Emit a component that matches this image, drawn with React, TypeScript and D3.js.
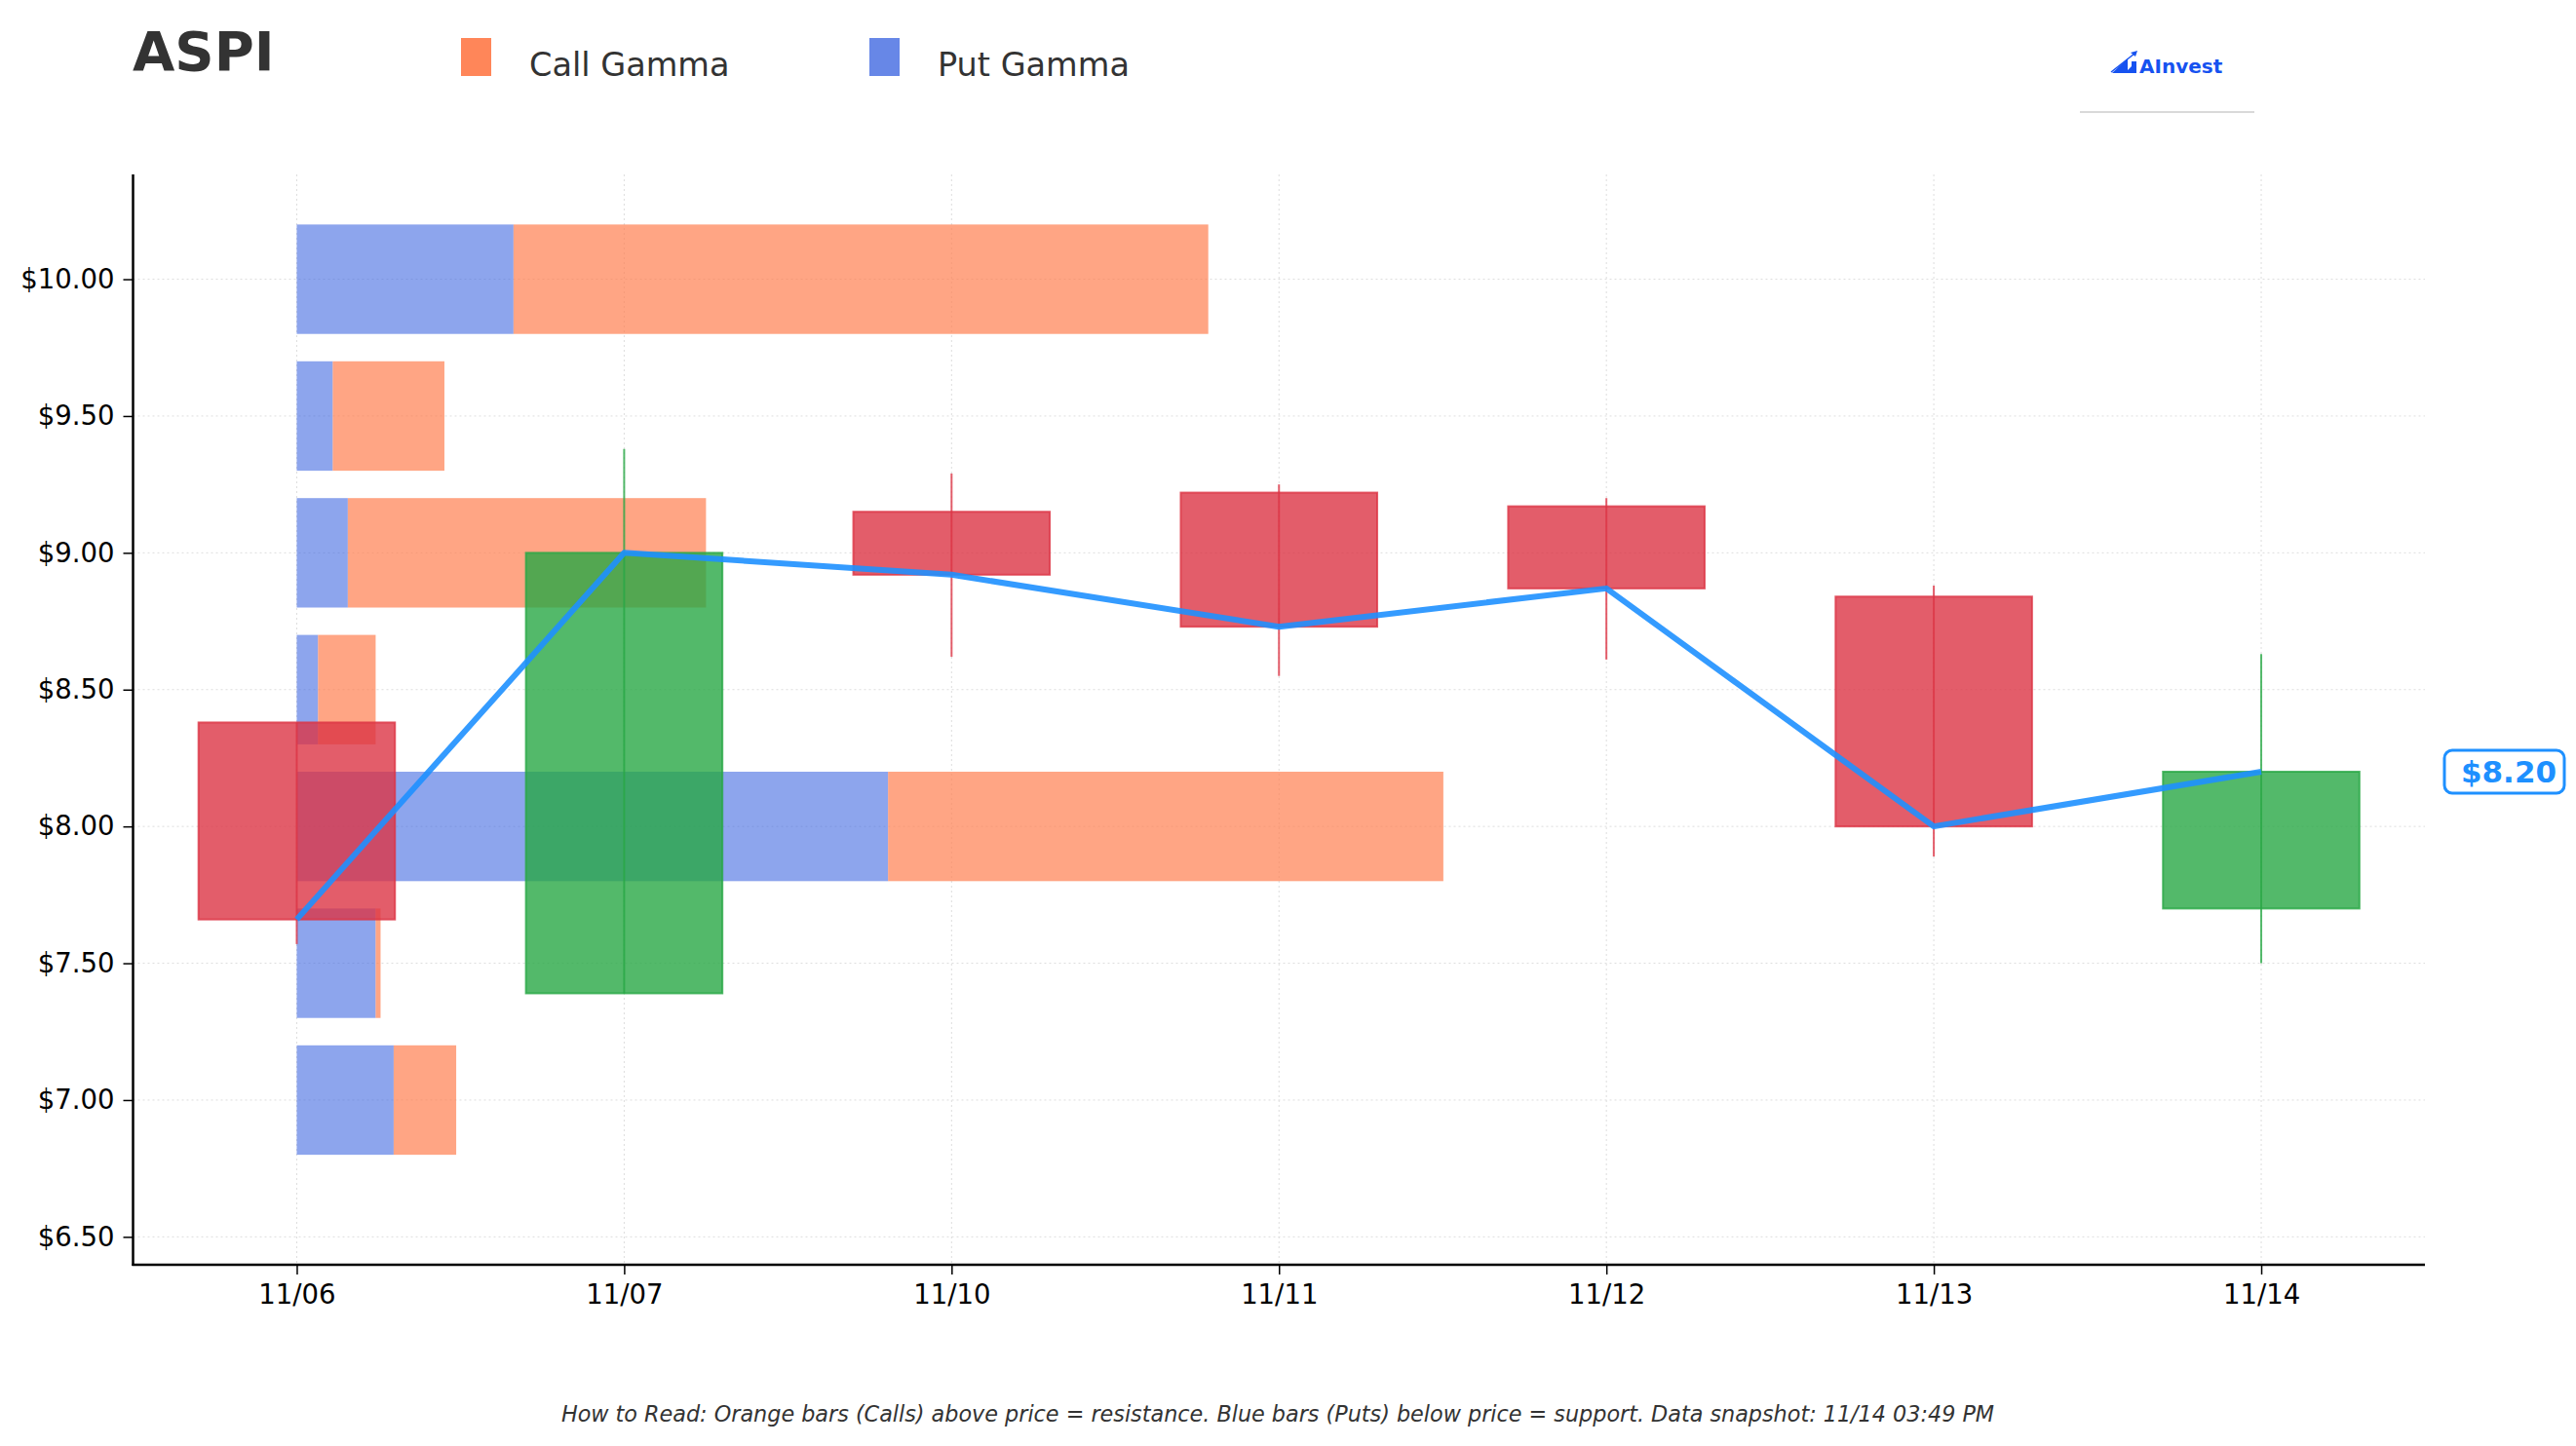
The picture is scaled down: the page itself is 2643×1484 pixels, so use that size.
import React from "react";
import * as d3 from "d3";

// candles, one per trading day
const dates: string[] = ["11/06", "11/07", "11/10", "11/11", "11/12", "11/13", "11/14"];
const opens: number[] = [8.38, 7.39, 9.15, 9.22, 9.17, 8.84, 7.70];
const highs: number[] = [8.38, 9.38, 9.29, 9.25, 9.20, 8.88, 8.63];
const lows: number[] = [7.57, 7.39, 8.62, 8.55, 8.61, 7.89, 7.50];
const closes: number[] = [7.66, 9.00, 8.92, 8.73, 8.87, 8.00, 8.20];

// gamma by strike
const strikes: number[] = [10.0, 9.5, 9.0, 8.5, 8.0, 7.5, 7.0];
const putGamma: number[] = [662, 110, 156, 65, 1806, 241, 296];
const callGamma: number[] = [2122, 341, 1094, 176, 1696, 15, 191];

const yTicks: number[] = [6.5, 7.0, 7.5, 8.0, 8.5, 9.0, 9.5, 10.0];
const lastPrice = 8.20;

const W = 2643;
const H = 1484;
const FONT = "DejaVu Sans, sans-serif";

class Chart extends React.Component {
    private node: any;

    constructor(props: any) {
        super(props);
        this.node = React.createRef();
    }

    componentDidMount() {
        this.draw();
    }

    private draw() {
        const svg = d3.select(this.node.current);
        svg.selectAll("*").remove();

        const left = 136.5, right = 2488, top = 179, bottom = 1298;

        const xScale = d3.scaleLinear().domain([-0.5, 6.5]).range([left, right]);
        const yScale = d3.scaleLinear().domain([6.398, 10.383]).range([bottom, top]);
        const gammaScale = d3.scaleLinear().domain([0, 1000]).range([0, xScale(1) - xScale(0)]);

        // grid
        const grid = svg.append("g");
        grid.selectAll(".hg").data(yTicks).enter().append("line")
            .attr("x1", left).attr("x2", right)
            .attr("y1", d => yScale(d)).attr("y2", d => yScale(d))
            .attr("stroke", "#dddddd").attr("stroke-width", 1).attr("stroke-dasharray", "2,3");
        grid.selectAll(".vg").data(dates).enter().append("line")
            .attr("x1", (d, i) => xScale(i)).attr("x2", (d, i) => xScale(i))
            .attr("y1", top).attr("y2", bottom)
            .attr("stroke", "#dddddd").attr("stroke-width", 1).attr("stroke-dasharray", "2,3");

        // gamma bars
        const barH = yScale(0) - yScale(0.4);
        const x0 = xScale(0);
        svg.append("g").selectAll("rect").data(strikes).enter().append("rect")
            .attr("x", x0)
            .attr("y", d => yScale(d + 0.2))
            .attr("width", (d, i) => gammaScale(putGamma[i]))
            .attr("height", barH)
            .attr("fill", "#4169E1").attr("fill-opacity", 0.6);
        svg.append("g").selectAll("rect").data(strikes).enter().append("rect")
            .attr("x", (d, i) => x0 + gammaScale(putGamma[i]))
            .attr("y", d => yScale(d + 0.2))
            .attr("width", (d, i) => gammaScale(callGamma[i]))
            .attr("height", barH)
            .attr("fill", "#FF7F50").attr("fill-opacity", 0.7);

        // candles
        const cw = xScale(0.3) - xScale(0);
        const candles = svg.append("g");
        dates.forEach((d, i) => {
            const up = closes[i] >= opens[i];
            const col = up ? "#28a745" : "#dc3545";
            const cx = xScale(i);
            candles.append("line")
                .attr("x1", cx).attr("x2", cx)
                .attr("y1", yScale(highs[i])).attr("y2", yScale(lows[i]))
                .attr("stroke", col).attr("stroke-width", 2).attr("stroke-opacity", 0.8);
            const yt = yScale(Math.max(opens[i], closes[i]));
            const yb = yScale(Math.min(opens[i], closes[i]));
            candles.append("rect")
                .attr("x", cx - cw).attr("y", yt)
                .attr("width", cw * 2).attr("height", yb - yt)
                .attr("fill", col).attr("fill-opacity", 0.8)
                .attr("stroke", col).attr("stroke-opacity", 0.8).attr("stroke-width", 2);
        });

        // close line
        const line = d3.line<number>()
            .x((d, i) => xScale(i))
            .y(d => yScale(d));
        svg.append("path")
            .datum(closes)
            .attr("d", line as any)
            .attr("fill", "none")
            .attr("stroke", "#1E90FF").attr("stroke-opacity", 0.9)
            .attr("stroke-width", 6).attr("stroke-linejoin", "round");

        // axes
        const yAxis = d3.axisLeft(yScale).tickValues(yTicks)
            .tickFormat(d => "$" + (d as number).toFixed(2)).tickSize(10).tickPadding(9);
        const gy = svg.append("g").attr("transform", "translate(" + left + ",0)").call(yAxis);
        gy.select(".domain").remove();
        gy.selectAll("text").attr("font-size", 27.5).attr("font-family", FONT).attr("fill", "#000");
        gy.selectAll("line").attr("stroke", "#000").attr("stroke-width", 1.5);

        const xAxis = d3.axisBottom(xScale).tickValues(d3.range(dates.length))
            .tickFormat(d => dates[d as number]).tickSize(10).tickPadding(10);
        const gx = svg.append("g").attr("transform", "translate(0," + bottom + ")").call(xAxis);
        gx.select(".domain").remove();
        gx.selectAll("text").attr("font-size", 27.5).attr("font-family", FONT).attr("fill", "#000");
        gx.selectAll("line").attr("stroke", "#000").attr("stroke-width", 1.5);

        svg.append("line").attr("x1", left).attr("x2", left).attr("y1", top).attr("y2", bottom + 1)
            .attr("stroke", "#000").attr("stroke-width", 2.5);
        svg.append("line").attr("x1", left - 1).attr("x2", right).attr("y1", bottom).attr("y2", bottom)
            .attr("stroke", "#000").attr("stroke-width", 2.5);

        // last price tag
        const py = yScale(lastPrice);
        svg.append("rect")
            .attr("x", 2508).attr("y", py - 22).attr("width", 123).attr("height", 44)
            .attr("rx", 8).attr("fill", "#fff")
            .attr("stroke", "#1E90FF").attr("stroke-width", 3);
        svg.append("text")
            .attr("x", 2574).attr("y", py + 11)
            .attr("text-anchor", "middle")
            .attr("font-family", FONT).attr("font-weight", "bold").attr("font-size", 31)
            .attr("fill", "#1E90FF")
            .text("$" + lastPrice.toFixed(2));

        // title + legend
        svg.append("text").attr("x", 136).attr("y", 72)
            .attr("font-family", FONT).attr("font-weight", "bold").attr("font-size", 56)
            .attr("fill", "#333").text("ASPI");

        const legend = [
            {label: "Call Gamma", color: "#FF7F50", op: 0.95, x: 473},
            {label: "Put Gamma", color: "#4169E1", op: 0.8, x: 892},
        ];
        legend.forEach(l => {
            svg.append("rect").attr("x", l.x).attr("y", 39).attr("width", 31).attr("height", 39)
                .attr("fill", l.color).attr("fill-opacity", l.op);
            svg.append("text").attr("x", l.x + 70).attr("y", 78)
                .attr("font-family", FONT).attr("font-size", 33.5).attr("fill", "#333").text(l.label);
        });

        // logo
        const logo = svg.append("g").attr("fill", "#1652F0");
        logo.append("polygon").attr("points", "2167,75 2183,60 2183,75");
        logo.append("polygon").attr("points", "2180,75 2187,68 2187,75");
        logo.append("rect").attr("x", 2187).attr("y", 63).attr("width", 5).attr("height", 12);
        logo.append("line").attr("x1", 2166).attr("y1", 74).attr("x2", 2190).attr("y2", 55)
            .attr("stroke", "#1652F0").attr("stroke-width", 1.5);
        logo.append("polygon").attr("points", "2186,54 2193,52 2191,58");
        logo.append("text").attr("x", 2195).attr("y", 75)
            .attr("font-family", FONT).attr("font-weight", "bold").attr("font-size", 20).text("AInvest");
        svg.append("line").attr("x1", 2134).attr("x2", 2313).attr("y1", 115).attr("y2", 115)
            .attr("stroke", "#cccccc").attr("stroke-width", 1.5);

        // footer
        svg.append("text").attr("x", 1311).attr("y", 1459)
            .attr("text-anchor", "middle")
            .attr("font-family", FONT).attr("font-style", "italic").attr("font-size", 22.3)
            .attr("fill", "#333")
            .text("How to Read: Orange bars (Calls) above price = resistance. Blue bars (Puts) below price = support. Data snapshot: 11/14 03:49 PM");
    }

    render() {
        return <svg ref={this.node} width={W} height={H}
            style={{position: "absolute", left: 0, top: 0, background: "#fff"}}></svg>;
    }
}

export default function App() {
    return <Chart />;
}
